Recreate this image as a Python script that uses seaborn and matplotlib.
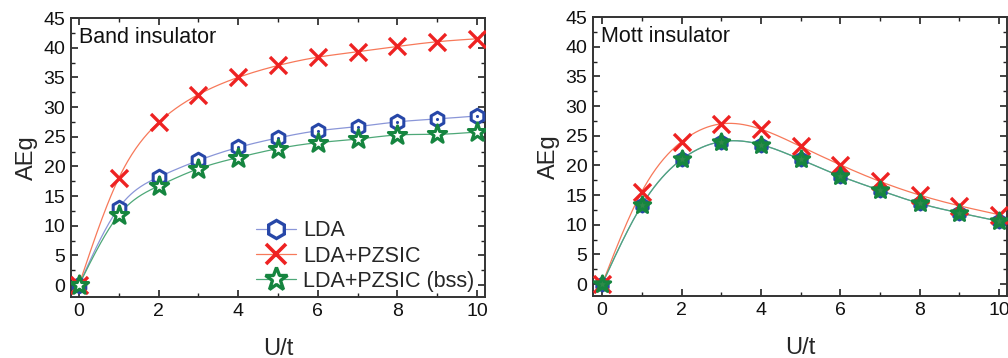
import numpy as np
import pandas as pd
import matplotlib
matplotlib.use("Agg")
import matplotlib.pyplot as plt
from matplotlib.lines import Line2D
from matplotlib.ticker import MultipleLocator
import seaborn as sns

# ---- data ----
U = [0, 1, 2, 3, 4, 5, 6, 7, 8, 9, 10]
band_lda = [0, 13.0, 18.2, 21.0, 23.2, 24.8, 26.0, 26.7, 27.5, 28.0, 28.5]
band_pzsic = [0, 18.0, 27.4, 32.1, 35.0, 37.0, 38.4, 39.3, 40.2, 41.0, 41.5]
band_bss = [0, 11.8, 16.7, 19.6, 21.5, 23.0, 24.0, 24.6, 25.3, 25.4, 25.8]
mott_lda = [0, 13.3, 21.0, 24.0, 23.5, 21.0, 18.2, 15.8, 13.6, 12.0, 10.6]
mott_pzsic = [0, 15.6, 24.0, 27.0, 26.1, 23.2, 20.1, 17.3, 15.0, 13.2, 11.7]
mott_bss = [0, 13.3, 21.0, 24.0, 23.5, 21.0, 18.2, 15.8, 13.6, 12.0, 10.6]
series_names = ["LDA", "LDA+PZSIC", "LDA+PZSIC (bss)"]
panel_titles = ["Band insulator", "Mott insulator"]
xticks = [0, 2, 4, 6, 8, 10]
yticks = [0, 5, 10, 15, 20, 25, 30, 35, 40, 45]


def natural_spline(x, y, n=400):
    x = np.asarray(x, float); y = np.asarray(y, float)
    m = len(x); h = np.diff(x)
    A = np.zeros((m, m)); r = np.zeros(m)
    A[0, 0] = A[-1, -1] = 1
    for i in range(1, m - 1):
        A[i, i - 1] = h[i - 1]; A[i, i] = 2 * (h[i - 1] + h[i]); A[i, i + 1] = h[i]
        r[i] = 3 * ((y[i + 1] - y[i]) / h[i] - (y[i] - y[i - 1]) / h[i - 1])
    c = np.linalg.solve(A, r)
    b = (y[1:] - y[:-1]) / h - h * (2 * c[:-1] + c[1:]) / 3
    d = (c[1:] - c[:-1]) / (3 * h)
    xs = np.linspace(x[0], x[-1], n)
    idx = np.clip(np.searchsorted(x, xs) - 1, 0, m - 2)
    dx = xs - x[idx]
    ys = y[idx] + b[idx] * dx + c[idx] * dx ** 2 + d[idx] * dx ** 3
    return xs, ys


sns.set_theme(style="ticks")
plt.rcParams["font.family"] = ["Liberation Sans", "DejaVu Sans"]

line_cols = ["#8a96d8", "#f7795a", "#4ea878"]
mk_cols = ["#2747a8", "#ee2222", "#15853f"]
markers = ["h", "x", "*"]
sizes = [110, 150, 190]

fig = plt.figure(figsize=(10.08, 3.58), dpi=100)
axes = [fig.add_axes([0.0704, 0.1704, 0.4107, 0.7793]),
        fig.add_axes([0.5883, 0.1732, 0.4107, 0.7793])]

panels = [[band_lda, band_pzsic, band_bss], [mott_lda, mott_pzsic, mott_bss]]

for pi, (ax, data, title) in enumerate(zip(axes, panels, panel_titles)):
    for k, ys in enumerate(data):
        xs_d, ys_d = natural_spline(U, ys)
        sns.lineplot(x=xs_d, y=ys_d, ax=ax, color=line_cols[k], lw=0.9,
                     legend=False, zorder=2)
    for k, ys in enumerate(data):
        df = pd.DataFrame({"U": U, "E": ys})
        if markers[k] == "x":
            sns.scatterplot(data=df, x="U", y="E", ax=ax, marker="x",
                            color=mk_cols[k], s=sizes[k], linewidth=2.4,
                            legend=False, zorder=3)
        else:
            fc = "white"
            if pi == 1 and markers[k] == "*":
                fc = "#2f8a4a"
            sns.scatterplot(data=df, x="U", y="E", ax=ax, marker=markers[k],
                            facecolor=fc, edgecolor=mk_cols[k],
                            s=sizes[k] if pi == 0 else sizes[k] * 0.8,
                            linewidth=2.2, legend=False, zorder=3)
            if markers[k] == "h":
                sns.scatterplot(data=df, x="U", y="E", ax=ax, marker="o",
                                color=mk_cols[k], s=5, linewidth=0,
                                legend=False, zorder=3)
    ax.set_xlim(-0.2, 10.2)
    ax.set_ylim(-2.0, 45)
    ax.set_xticks(xticks)
    ax.set_yticks(yticks)
    ax.xaxis.set_minor_locator(MultipleLocator(1))
    ax.yaxis.set_minor_locator(MultipleLocator(2.5))
    ax.tick_params(which="both", direction="in", top=True, right=True,
                   labelsize=14, color="#222222", labelcolor="#111111")
    ax.tick_params(which="major", length=5, width=1.2, pad=4)
    ax.tick_params(which="minor", length=3, width=1.0)
    for sp in ax.spines.values():
        sp.set_visible(True)
        sp.set_linewidth(1.4)
        sp.set_color("#333333")
    ax.set_xlabel("U/t", fontsize=17, labelpad=13)
    ax.set_ylabel("AEg", fontsize=17, labelpad=4)
    ax.text(0.02, 0.93, title, transform=ax.transAxes, fontsize=15.5,
            va="center", ha="left", color="#111111")

axes[1].set_xlim(-0.23, 10.2)

handles = []
leg_ms = [13, 15, 17]
for k in range(3):
    if markers[k] == "x":
        h = Line2D([], [], color=line_cols[k], lw=0.9, marker="x", ms=leg_ms[k],
                   mec=mk_cols[k], mew=2.6)
    else:
        h = Line2D([], [], color=line_cols[k], lw=0.9, marker=markers[k],
                   ms=leg_ms[k], mfc="white", mec=mk_cols[k], mew=2.4)
    handles.append(h)
axes[0].legend(handles, series_names, loc="lower right", frameon=False,
               fontsize=15.5, handlelength=1.9, handletextpad=0.3,
               labelspacing=0.2, borderaxespad=0.1,
               bbox_to_anchor=(1.0, -0.02))

fig.savefig("out.png", dpi=100)
